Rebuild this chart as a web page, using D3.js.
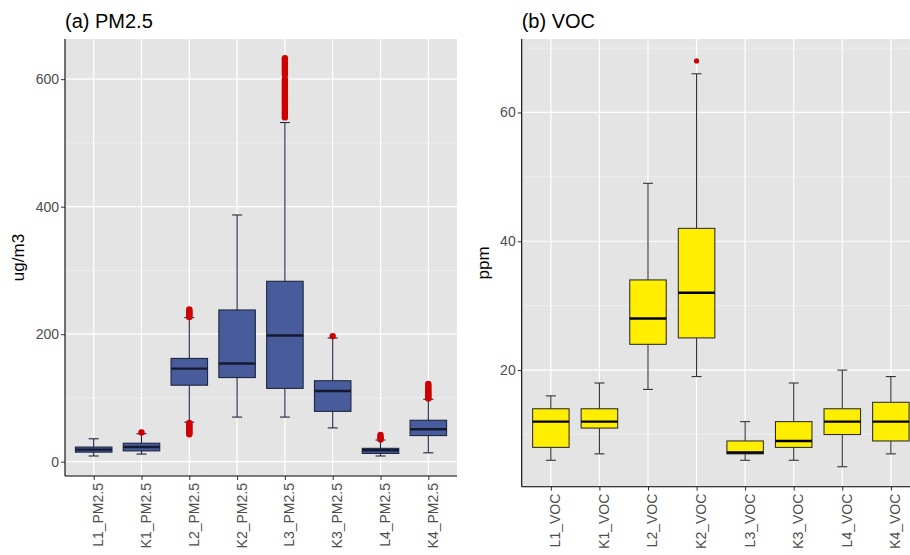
<!DOCTYPE html>
<html lang="en">
<head>
<meta charset="utf-8">
<script src="https://d3js.org/d3.v7.min.js"></script>
<style>
  body { margin: 0; background: #fff; }
  text { font-family: "Liberation Sans", Arial, sans-serif; }
</style>
</head>
<body>
<script>
// ---- data ----
const pmCats = ["L1_PM2.5", "K1_PM2.5", "L2_PM2.5", "K2_PM2.5", "L3_PM2.5", "K3_PM2.5", "L4_PM2.5", "K4_PM2.5"];
const pmLow  = [9, 12, 62, 70, 70, 53, 9, 14];
const pmQ1   = [15, 17, 120, 132, 115, 79, 13, 41];
const pmMed  = [19, 23, 146, 154, 198, 111, 18, 51];
const pmQ3   = [23, 29, 162, 238, 283, 127, 21, 65];
const pmHigh = [36, 44, 226, 387, 532, 194, 34, 98];
const pmOut  = [
  [],
  [46],
  [43, 45, 47, 49, 51, 53, 55, 57, 59, 61, 227, 229, 231, 233, 235, 237, 239],
  [],
  [540, 543, 546, 549, 552, 555, 558, 561, 564, 567, 570, 573, 576, 579, 582, 585, 588, 591, 594, 597, 600,
   607, 610, 613, 616, 619, 622, 625, 628, 631, 633],
  [197],
  [35, 37, 39, 42],
  [99, 101, 104, 106, 109, 111, 114, 116, 119, 122]
];
const pmTicks = [0, 200, 400, 600];

const vocCats = ["L1_VOC", "K1_VOC", "L2_VOC", "K2_VOC", "L3_VOC", "K3_VOC", "L4_VOC", "K4_VOC"];
const vocLow  = [6, 7, 17, 19, 6, 6, 5, 7];
const vocQ1   = [8, 11, 24, 25, 7, 8, 10, 9];
const vocMed  = [12, 12, 28, 32, 7.2, 9, 12, 12];
const vocQ3   = [14, 14, 34, 42, 9, 12, 14, 15];
const vocHigh = [16, 18, 49, 66, 12, 18, 20, 19];
const vocOut  = [[], [], [], [68], [], [], [], []];
const vocTicks = [20, 40, 60];

const W = 910, H = 555;
const svg = d3.select("body").append("svg")
  .attr("width", W).attr("height", H);

function drawPanel(p) {
  const g = svg.append("g");
  const x = d3.scalePoint().domain(p.cats).range([p.x0, p.x1]).padding(0.6);
  const y = d3.scaleLinear().domain(p.ydom).range([p.y1, p.y0]);

  g.append("rect")
    .attr("x", p.x0).attr("y", p.y0)
    .attr("width", p.x1 - p.x0).attr("height", p.y1 - p.y0)
    .attr("fill", "#e4e4e4");

  // minor grid
  g.selectAll(".minor").data(p.minor).enter().append("line")
    .attr("x1", p.x0).attr("x2", p.x1)
    .attr("y1", d => y(d)).attr("y2", d => y(d))
    .attr("stroke", "#f4f4f4").attr("stroke-width", 0.6);
  // major grid
  g.selectAll(".majy").data(p.ticks).enter().append("line")
    .attr("x1", p.x0).attr("x2", p.x1)
    .attr("y1", d => y(d)).attr("y2", d => y(d))
    .attr("stroke", "#fff").attr("stroke-width", 1.2);
  g.selectAll(".majx").data(p.cats).enter().append("line")
    .attr("x1", d => x(d)).attr("x2", d => x(d))
    .attr("y1", p.y0).attr("y2", p.y1)
    .attr("stroke", "#fff").attr("stroke-width", 1.2);

  const rows = p.cats.map((c, i) => ({
    c: c, lo: p.low[i], q1: p.q1[i], med: p.med[i], q3: p.q3[i], hi: p.high[i], out: p.out[i]
  }));
  const bw = 36.5, cap = 10;

  const b = g.selectAll(".box").data(rows).enter().append("g");
  // whiskers + caps
  b.append("line")
    .attr("x1", d => x(d.c)).attr("x2", d => x(d.c))
    .attr("y1", d => y(d.hi)).attr("y2", d => y(d.lo))
    .attr("stroke", p.line).attr("stroke-width", 1.1);
  b.append("line")
    .attr("x1", d => x(d.c) - cap / 2).attr("x2", d => x(d.c) + cap / 2)
    .attr("y1", d => y(d.hi)).attr("y2", d => y(d.hi))
    .attr("stroke", p.line).attr("stroke-width", 1.1);
  b.append("line")
    .attr("x1", d => x(d.c) - cap / 2).attr("x2", d => x(d.c) + cap / 2)
    .attr("y1", d => y(d.lo)).attr("y2", d => y(d.lo))
    .attr("stroke", p.line).attr("stroke-width", 1.1);
  b.append("rect")
    .attr("x", d => x(d.c) - bw / 2).attr("width", bw)
    .attr("y", d => y(d.q3)).attr("height", d => y(d.q1) - y(d.q3))
    .attr("fill", p.fill).attr("stroke", p.line).attr("stroke-width", 1.1);
  b.append("line")
    .attr("x1", d => x(d.c) - bw / 2).attr("x2", d => x(d.c) + bw / 2)
    .attr("y1", d => y(d.med)).attr("y2", d => y(d.med))
    .attr("stroke", p.medc).attr("stroke-width", 2.4);
  b.selectAll("circle").data(d => d.out.map(v => ({c: d.c, v: v}))).enter().append("circle")
    .attr("cx", d => x(d.c)).attr("cy", d => y(d.v))
    .attr("r", p.r).attr("fill", "#cc0000");

  // axes
  const ya = g.append("g").attr("transform", "translate(" + p.x0 + ",0)")
    .call(d3.axisLeft(y).tickValues(p.ticks).tickSize(4).tickPadding(2));
  const xa = g.append("g").attr("transform", "translate(0," + p.y1 + ")")
    .call(d3.axisBottom(x).tickSize(4));
  [ya, xa].forEach(a => {
    a.select(".domain").remove();
    a.selectAll(".tick line").attr("stroke", "#333");
    a.selectAll("text").attr("fill", "#4d4d4d").style("font-size", "14px");
  });
  xa.selectAll("text")
    .attr("transform", "rotate(-90)")
    .attr("text-anchor", "end")
    .attr("x", -7).attr("y", 4).attr("dy", "0.35em")
    .attr("dx", 0);

  g.append("line").attr("x1", p.x0).attr("x2", p.x0).attr("y1", p.y0).attr("y2", p.y1)
    .attr("stroke", "#000").attr("stroke-width", 1.1);
  g.append("line").attr("x1", p.x0).attr("x2", p.x1).attr("y1", p.y1).attr("y2", p.y1)
    .attr("stroke", "#000").attr("stroke-width", 1.1);

  g.append("text").attr("x", p.x0).attr("y", 28)
    .style("font-size", "20px").attr("fill", "#000").text(p.title);
  g.append("text")
    .attr("transform", "translate(" + p.ylx + "," + ((p.y0 + p.y1) / 2) + ") rotate(-90)")
    .attr("text-anchor", "middle")
    .style("font-size", "17px").attr("fill", "#000").text(p.ylab);
}

drawPanel({
  cats: pmCats, low: pmLow, q1: pmQ1, med: pmMed, q3: pmQ3, high: pmHigh, out: pmOut,
  ticks: pmTicks, minor: [100, 300, 500], ydom: [-22.4, 663],
  x0: 65, x1: 457, y0: 39, y1: 476,
  fill: "#485c9c", line: "#1e2640", medc: "#141a30", r: 3.2,
  title: "(a) PM2.5", ylab: "ug/m3", ylx: 24
});
drawPanel({
  cats: vocCats, low: vocLow, q1: vocQ1, med: vocMed, q3: vocQ3, high: vocHigh, out: vocOut,
  ticks: vocTicks, minor: [10, 30, 50, 70], ydom: [1.9, 71.4],
  x0: 521.7, x1: 920, y0: 39, y1: 486.7,
  fill: "#ffee00", line: "#333333", medc: "#000", r: 2.6,
  title: "(b) VOC", ylab: "ppm", ylx: 489
});
</script>
</body>
</html>
